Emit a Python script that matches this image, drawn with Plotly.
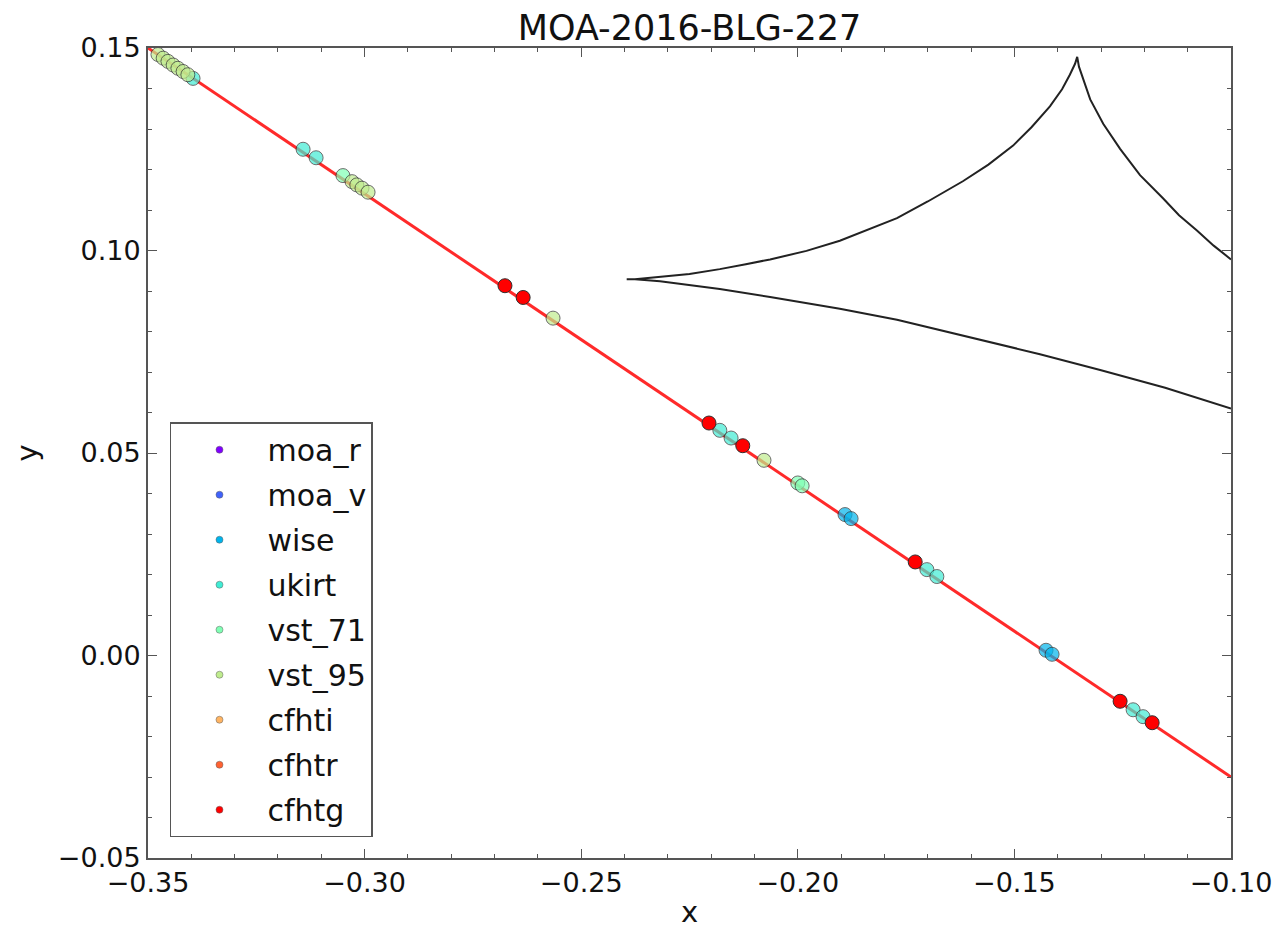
import plotly.graph_objects as go

# ---------------- data ----------------
title_text = "MOA-2016-BLG-227"

# source trajectory (red line)
traj_x = [-0.35, -0.10]
traj_y = [0.150, -0.030]

# caustic (black curve)
caustic_x = [-0.1000, -0.1040, -0.1078, -0.1120, -0.1157, -0.1210,
             -0.1256, -0.1295, -0.1325, -0.1342, -0.1351, -0.1355,
             -0.1360, -0.1372, -0.1390, -0.1418, -0.1460, -0.1503,
             -0.1560, -0.1619, -0.1700, -0.1771, -0.1840, -0.1903,
             -0.1980, -0.2064, -0.2120, -0.2180, -0.2250, -0.2318,
             -0.2376, -0.2395,
             -0.2376, -0.2318, -0.2250,
             -0.2180, -0.2064, -0.1903, -0.1771, -0.1609, -0.1441,
             -0.1302, -0.1152, -0.1000]
caustic_y = [0.0978, 0.1012, 0.1049, 0.1087, 0.1129, 0.1186,
             0.1251, 0.1313, 0.1373, 0.1427, 0.1454, 0.1478,
             0.1461, 0.1434, 0.1398, 0.1356, 0.1305, 0.1259,
             0.1212, 0.1171, 0.1121, 0.1080, 0.1050, 0.1024,
             0.0999, 0.0978, 0.0966, 0.0954, 0.0942, 0.0934,
             0.0929, 0.0929,
             0.0929, 0.0924, 0.0915,
             0.0905, 0.0885, 0.0856, 0.0829, 0.0788, 0.0744,
             0.0705, 0.0661, 0.0610]

datasets = ["moa_r", "moa_v", "wise", "ukirt", "vst_71", "vst_95",
            "cfhti", "cfhtr", "cfhtg"]
colors = ["#8000ff", "#4062fa", "#00b4ec", "#40ecd4", "#80ffb4",
          "#bfec8e", "#ffb462", "#ff6232", "#ff0000"]

pts_x = {
    "moa_r": [],
    "moa_v": [],
    "wise": [-0.1891, -0.1877, -0.1427, -0.1413],
    "ukirt": [-0.3396, -0.3142, -0.3112, -0.2180, -0.2154, -0.1702,
              -0.1679, -0.1226, -0.1203],
    "vst_71": [-0.3050, -0.2000, -0.1990],
    "vst_95": [-0.3477, -0.3465, -0.3454, -0.3442, -0.3431, -0.3419,
               -0.3408, -0.3029, -0.3018, -0.3006, -0.2992, -0.2565,
               -0.2078],
    "cfhti": [],
    "cfhtr": [],
    "cfhtg": [-0.2676, -0.2634, -0.2205, -0.2127, -0.1729, -0.1256,
              -0.1182],
}
pts_y = {
    "moa_r": [],
    "moa_v": [],
    "wise": [0.0348, 0.0338, 0.0013, 0.0003],
    "ukirt": [0.1425, 0.1250, 0.1229, 0.0556, 0.0537, 0.0212, 0.0195,
              -0.0134, -0.0151],
    "vst_71": [0.1185, 0.0426, 0.0419],
    "vst_95": [0.1484, 0.1475, 0.1467, 0.1458, 0.1450, 0.1442, 0.1434,
               0.1170, 0.1162, 0.1154, 0.1144, 0.0833, 0.0482],
    "cfhti": [],
    "cfhtr": [],
    "cfhtg": [0.0913, 0.0884, 0.0574, 0.0518, 0.0231, -0.0113, -0.0166],
}

x_ticks = [-0.35, -0.30, -0.25, -0.20, -0.15, -0.10]
y_ticks = [-0.05, 0.00, 0.05, 0.10, 0.15]

# ---------------- figure ----------------
FONT = "DejaVu Sans"
fig = go.Figure()

fig.add_trace(go.Scatter(x=caustic_x, y=caustic_y, mode="lines",
                         line=dict(color="#222222", width=2),
                         showlegend=False, hoverinfo="skip"))
fig.add_trace(go.Scatter(x=traj_x, y=traj_y, mode="lines",
                         line=dict(color="#ff2a2a", width=3),
                         showlegend=False, hoverinfo="skip"))

for name, col in zip(datasets, colors):
    op = 1.0 if name == "cfhtg" else 0.7
    fig.add_trace(go.Scatter(
        x=pts_x[name], y=pts_y[name], mode="markers",
        marker=dict(color=col, size=14, opacity=op,
                    line=dict(color="#303030", width=1)),
        showlegend=False, name=name))
    # legend entry with small marker
    fig.add_trace(go.Scatter(
        x=[None], y=[None], mode="markers", name=name, legendgroup=name,
        marker=dict(color=col, size=7, line=dict(color="#606060", width=0.5)),
        showlegend=True))

fig.update_layout(
    width=1285, height=935,
    margin=dict(l=148, r=54, t=48, b=67),
    paper_bgcolor="white", plot_bgcolor="white",
    font=dict(family=FONT, size=27, color="#111111"),
    title=dict(text=title_text, x=0.5, xref="paper", xanchor="center",
               y=1 - 28 / 935, yref="container", yanchor="middle",
               font=dict(family=FONT, size=35, color="#111111")),
    legend=dict(x=0.0203, xanchor="left", y=0.538, yanchor="top",
                bgcolor="white", bordercolor="#555555", borderwidth=1.5,
                font=dict(family=FONT, size=30, color="#111111"),
                itemwidth=86, tracegroupgap=3, traceorder="grouped"),
)

axis_common = dict(
    showgrid=False, zeroline=False, showline=True, linecolor="#555555",
    linewidth=2, mirror="ticks", ticks="inside", ticklen=9, tickwidth=1,
    tickcolor="#555555", tickformat=".2f",
    minor=dict(ticks="inside", ticklen=4, tickcolor="#555555", dtick=0.01,
               showgrid=False),
    tickfont=dict(family=FONT, size=27, color="#111111"),
)

fig.update_xaxes(range=[-0.35, -0.10], tickvals=x_ticks,
                 title=dict(text="x", font=dict(family=FONT, size=29),
                            standoff=4),
                 **axis_common)
fig.update_yaxes(range=[-0.05, 0.15], tickvals=y_ticks,
                 title=dict(text="y", font=dict(family=FONT, size=29),
                            standoff=12),
                 **axis_common)

fig.write_html("out.html")
